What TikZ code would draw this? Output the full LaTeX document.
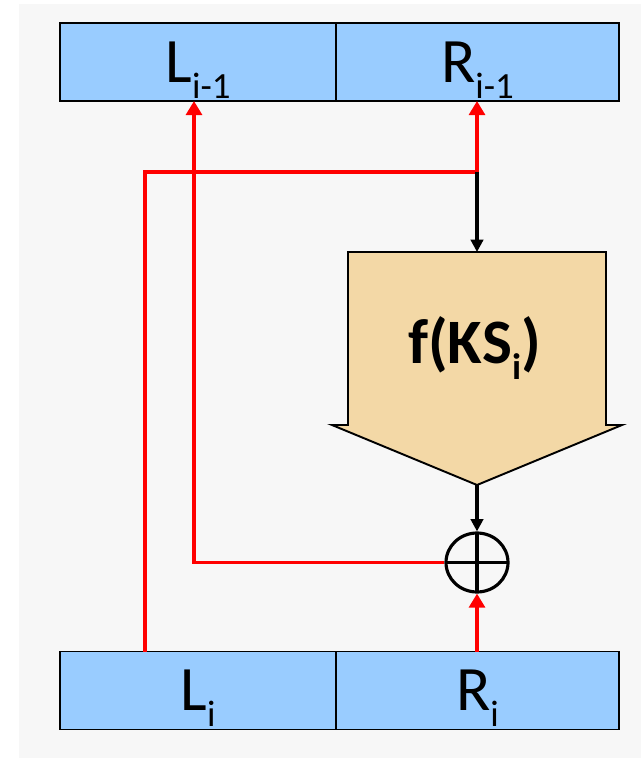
\documentclass[tikz,border=0pt]{standalone}
\usepackage{fontspec}
\setmainfont{Carlito}
\usepackage{tikz}
\usetikzlibrary{arrows.meta,calc,positioning,shapes.geometric}
\definecolor{cellblue}{HTML}{99CCFF}
\definecolor{fwheat}{HTML}{F3D8A6}
\definecolor{bggray}{HTML}{F7F7F7}
\newcommand{\RedTip}{Triangle[length=8pt,width=9pt]}
\newcommand{\BlkTip}{Triangle[length=7pt,width=7pt]}
\newcommand{\Sub}[1]{\raisebox{-9pt}{\fontsize{21}{24}\selectfont #1}}
\tikzset{cell/.style={draw,fill=cellblue,line width=1.1pt,outer sep=0pt,minimum height=1.56cm,inner sep=0pt,text height=23pt,text depth=0pt,font=\fontsize{36}{40}\selectfont}}
\tikzset{redl/.style={draw=red,line width=2.2pt,-{\RedTip}}}
\tikzset{blkl/.style={draw=black,line width=1.9pt,-{\BlkTip}}}

\begin{document}
\begin{tikzpicture}
\useasboundingbox(0,0)rectangle(12.82,-15.16);
\fill[bggray](0.38,-0.08)rectangle(12.82,-15.16);
\node(Lp)[cell,minimum width=5.52cm]at(3.96,-1.24){L\Sub{i-1}};
\node(Rp)[cell,minimum width=5.66cm,right=0pt of Lp]{R\Sub{i-1}};
\node(Li)[cell,minimum width=5.52cm]at(3.96,-13.81){L\Sub{i}};
\node(Ri)[cell,minimum width=5.66cm,right=0pt of Li]{R\Sub{i}};
% round function
\coordinate(ftop)at(9.54,-5.04);\coordinate(ftip)at(9.54,-9.7);
\draw[fill=fwheat,line width=1.1pt](6.96,-5.04)--(12.12,-5.04)--(12.12,-8.5)--(12.44,-8.5)--(ftip)--(6.64,-8.5)--(6.96,-8.5)--cycle;
\node(fks)[inner sep=0pt,text height=23pt,text depth=0pt,font=\fontsize{36}{40}\selectfont\bfseries]at(9.49,-6.86){f(KS\Sub{i})};
\node(x)[draw,ellipse,line width=1.8pt,minimum width=1.24cm,minimum height=1.18cm,inner sep=0pt,
  path picture={\draw[line width=1.8pt](path picture bounding box.north)--(path picture bounding box.south)(path picture bounding box.west)--(path picture bounding box.east);}]at(9.54,-11.25){};
\coordinate(jr)at(9.54,-3.44);\coordinate(jl)at(2.9,-3.44);\coordinate(lcol)at(3.88,0);
\draw[redl](Li.north-|jl)|-(jr)--(Rp.south-|jr);
\draw[blkl](jr)--(ftop);
\draw[blkl](ftip)--(x.north);
\draw[redl](x.west)-|(Lp.south-|lcol);
\draw[redl](Ri.north-|x)--(x.south);
\end{tikzpicture}
\end{document}
